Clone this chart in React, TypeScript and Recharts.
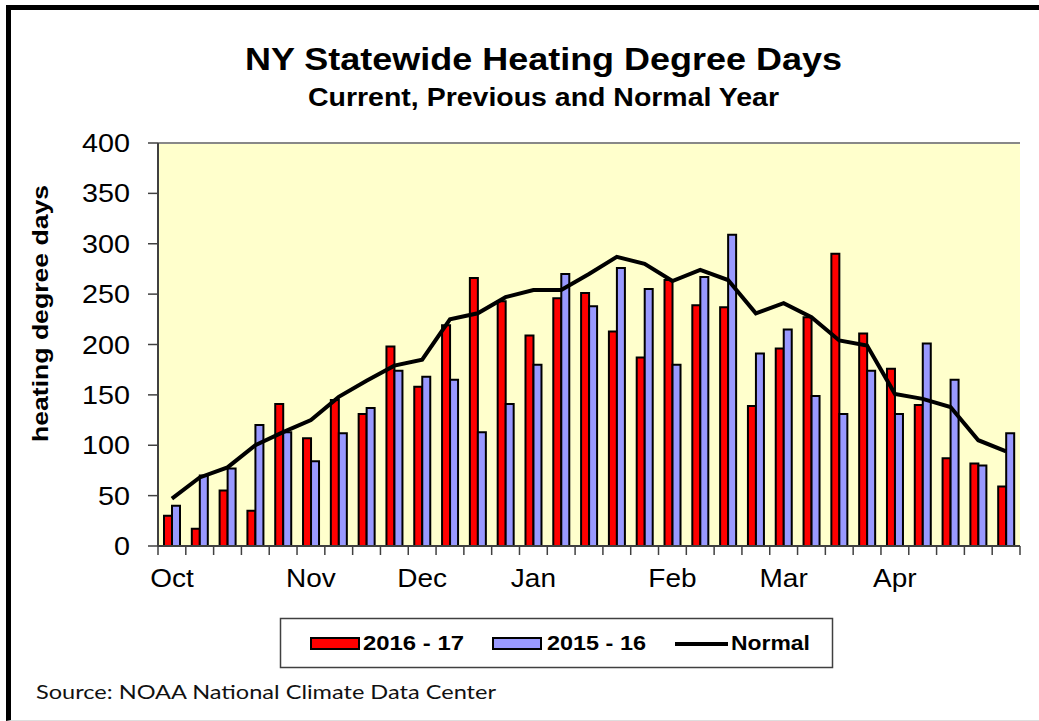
import React from 'react'
import {
  ComposedChart,
  Bar,
  Line,
  XAxis,
  YAxis,
  CartesianGrid,
  ReferenceLine,
} from 'recharts'

// weekly heating degree days, Oct through April
const monthLabels = [
  'Oct', '', '', '', '', 'Nov', '', '', '', 'Dec', '', '', '', 'Jan', '', '', '',
  '', 'Feb', '', '', '', 'Mar', '', '', '', 'Apr', '', '', '', '',
]
const current = [
  30, 17, 55, 35, 141, 107, 145, 131, 198, 158, 219, 266, 243, 209, 246, 251,
  213, 187, 264, 239, 237, 139, 196, 227, 290, 211, 176, 140, 87, 82, 59,
]
const previous = [
  40, 70, 77, 120, 113, 84, 112, 137, 174, 168, 165, 113, 141, 180, 270, 238,
  276, 255, 180, 267, 309, 191, 215, 149, 131, 174, 131, 201, 165, 80, 112,
]
const normal = [
  47, 68, 78, 100, 113, 125, 148, 164, 179, 185, 225, 231, 247, 254, 254, 270,
  287, 280, 263, 274, 264, 231, 241, 227, 204, 199, 151, 146, 138, 105, 94,
]
const yTicks = [0, 50, 100, 150, 200, 250, 300, 350, 400]

const data = monthLabels.map((label, i) => ({
  week: i,
  label,
  cur: current[i],
  prev: previous[i],
  normal: normal[i],
}))

const W = 1039
const H = 721
const margin = { top: 143, right: 19, bottom: 125, left: 58 }
const plotWidth = W - margin.left - 100 - margin.right
const band = plotWidth / data.length
const FONT = '"Liberation Sans", Arial, sans-serif'

const YTick = (props: any) => {
  const { x, y, payload } = props
  return (
    <text
      transform={`translate(${x},${y}) scale(1.15,1)`}
      textAnchor="end"
      dy="0.36em"
      fontSize={25}
      fontFamily={FONT}
      fill="#000"
    >
      {payload.value}
    </text>
  )
}

const XTick = (props: any) => {
  const { x, y, payload, index } = props
  const label = monthLabels[payload.value] ?? ''
  return (
    <g>
      <line x1={x - band / 2} x2={x - band / 2} y1={y} y2={y + 9} stroke="#404040" strokeWidth={1.5} />
      {index === data.length - 1 && (
        <line x1={x + band / 2} x2={x + band / 2} y1={y} y2={y + 9} stroke="#404040" strokeWidth={1.5} />
      )}
      {label && (
        <text
          transform={`translate(${x},${y + 41}) scale(1.12,1)`}
          textAnchor="middle"
          fontSize={25}
          fontFamily={FONT}
          fill="#000"
        >
          {label}
        </text>
      )}
    </g>
  )
}

export default function App() {
  return (
    <div style={{ position: 'absolute', left: 0, top: 0, width: W, height: H, background: '#fff' }}>
      <div
        style={{
          position: 'absolute',
          left: 6,
          top: 5,
          width: W - 6,
          height: 716,
          boxSizing: 'border-box',
          borderLeft: '5px solid #000',
          borderTop: '5px solid #000',
          borderBottom: '1px solid #ddd',
        }}
      />
      <div style={{ position: 'absolute', left: 0, top: 0 }}>
        <ComposedChart width={W} height={H} data={data} margin={margin} barGap={0}>
          <CartesianGrid vertical={false} stroke="#404040" strokeWidth={1.5} fill="#FFFFCC" fillOpacity={1} />
          <XAxis
            dataKey="week"
            type="category"
            height={50}
            interval={0}
            tickSize={0}
            tickMargin={0}
            tickLine={false}
            axisLine={{ stroke: '#404040', strokeWidth: 2 }}
            tick={<XTick />}
          />
          <YAxis
            yAxisId="l"
            width={100}
            domain={[0, 400]}
            ticks={yTicks}
            interval={0}
            tickSize={10}
            tickMargin={18}
            axisLine={{ stroke: '#404040', strokeWidth: 2 }}
            tickLine={{ stroke: '#404040', strokeWidth: 1.5 }}
            tick={<YTick />}
          />
          <YAxis
            yAxisId="r"
            orientation="right"
            width={0}
            domain={[0, 400]}
            tick={false}
            tickLine={false}
            axisLine={{ stroke: '#888', strokeWidth: 2 }}
          />
          <ReferenceLine yAxisId="l" y={400} stroke="#888" strokeWidth={2} />
          <Bar yAxisId="l" dataKey="cur" fill="#FF0000" stroke="#000" strokeWidth={2} barSize={8} isAnimationActive={false} />
          <Bar yAxisId="l" dataKey="prev" fill="#9999FF" stroke="#000" strokeWidth={2} barSize={8} isAnimationActive={false} />
          <Line
            yAxisId="l"
            type="linear"
            dataKey="normal"
            stroke="#000"
            strokeWidth={4}
            dot={false}
            isAnimationActive={false}
          />
        </ComposedChart>
      </div>
      <svg width={W} height={H} style={{ position: 'absolute', left: 0, top: 0, pointerEvents: 'none' }}>
        <text x={543.5} y={70} textAnchor="middle" fontSize={32} fontWeight="bold" fontFamily={FONT}
          textLength={597} lengthAdjust="spacingAndGlyphs">
          NY Statewide Heating Degree Days
        </text>
        <text x={543.5} y={106} textAnchor="middle" fontSize={26} fontWeight="bold" fontFamily={FONT}
          textLength={471} lengthAdjust="spacingAndGlyphs">
          Current, Previous and Normal Year
        </text>
        <text transform="translate(48,313.5) rotate(-90)" textAnchor="middle" fontSize={22} fontWeight="bold"
          fontFamily={FONT} textLength={257} lengthAdjust="spacingAndGlyphs">
          heating degree days
        </text>

        <rect x={280.5} y={618.5} width={552} height={49} fill="#fff" stroke="#404040" strokeWidth={1.5} />
        <rect x={311} y={638} width={48} height={11} fill="#FF0000" stroke="#000" strokeWidth={2} />
        <text x={363} y={649.5} fontSize={21} fontWeight="bold" fontFamily={FONT} textLength={101}
          lengthAdjust="spacingAndGlyphs">2016 - 17</text>
        <rect x={493} y={638} width={48} height={11} fill="#9999FF" stroke="#000" strokeWidth={2} />
        <text x={547} y={649.5} fontSize={21} fontWeight="bold" fontFamily={FONT} textLength={99}
          lengthAdjust="spacingAndGlyphs">2015 - 16</text>
        <line x1={675} x2={728} y1={644} y2={644} stroke="#000" strokeWidth={4} />
        <text x={731} y={649.5} fontSize={21} fontWeight="bold" fontFamily={FONT} textLength={79}
          lengthAdjust="spacingAndGlyphs">Normal</text>

        <text x={36} y={699} fontSize={20} fontFamily="Lato, sans-serif" fill="#111" textLength={460}
          lengthAdjust="spacingAndGlyphs">
          Source: NOAA National Climate Data Center
        </text>
      </svg>
    </div>
  )
}
